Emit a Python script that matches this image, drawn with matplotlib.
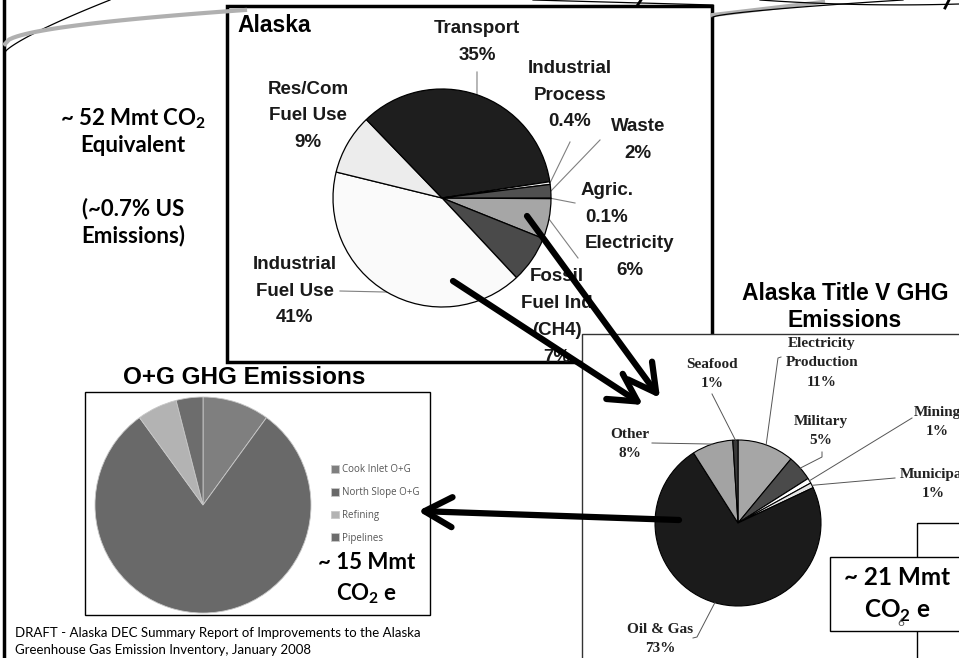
import numpy as np
import matplotlib
matplotlib.use('Agg')
import matplotlib.pyplot as plt
from matplotlib.patches import Rectangle

W, H = 959, 658

# statewide inventory, percent of total
ak_names = ['Agric.', 'Electricity', 'Fossil\nFuel Ind\n(CH4)', 'Industrial\nFuel Use',
            'Res/Com\nFuel Use', 'Transport', 'Industrial\nProcess', 'Waste']
ak_values = [0.1, 6, 7, 41, 9, 35, 0.4, 2]
ak_colors = ['#d9d9d9', '#a6a6a6', '#4a4a4a', '#fafafa', '#ececec', '#1e1e1e', '#f2f2f2', '#505050']

# oil and gas sector split
og_names = ['Cook Inlet O+G', 'North Slope O+G', 'Refining', 'Pipelines']
og_values = [10, 80, 6, 4]
og_colors = ['#7f7f7f', '#696969', '#b3b3b3', '#6d6d6d']

# Title V sources, percent
tv_names = ['Electricity\nProduction', 'Military', 'Mining', 'Municipal', 'Oil & Gas', 'Other', 'Seafood']
tv_values = [11, 5, 1, 1, 73, 8, 1]
tv_colors = ['#a6a6a6', '#4a4a4a', '#ffffff', '#e6e6e6', '#1b1b1b', '#a3a3a3', '#3a3a3a']

plt.rcParams['mathtext.fontset'] = 'custom'
plt.rcParams['mathtext.rm'] = 'Lato'
plt.rcParams['mathtext.bf'] = 'Lato:bold'

fig = plt.figure(figsize=(W / 100, H / 100), dpi=100)


def overlay(z):
    ax = fig.add_axes([0, 0, 1, 1], zorder=z)
    ax.set_xlim(0, W)
    ax.set_ylim(H, 0)
    ax.axis('off')
    return ax


def pie_axes(cx, cy, r, z):
    pad = 1.05
    ax = fig.add_axes([(cx - r * pad) / W, 1 - (cy + r * pad) / H, 2 * r * pad / W, 2 * r * pad / H], zorder=z)
    return ax


def finish_pie(ax):
    ax.set_xlim(-1.05, 1.05)
    ax.set_ylim(-1.05, 1.05)
    ax.axis('off')


def rim(cx, cy, r, ang):
    a = np.deg2rad(ang)
    return cx + r * np.cos(a), cy - r * np.sin(a)


def pct(v):
    return f'{v:g}%'


base = overlay(0)

# slide edge and leftover title swooshes
base.plot([4, 4], [0, H], color='black', lw=2.5)
t = np.linspace(0, 1, 60)
base.plot(5 + 105 * t, 52 - 52 * t ** 0.8, color='black', lw=0.9)
base.plot(5 + 240 * t, 44 - 34 * np.sqrt(t), color='#b0b0b0', lw=3)
base.plot(713 + 110 * t, 15 - 13 * t, color='#b0b0b0', lw=3)
base.plot(713 + 190 * t, 17 - 17 * t ** 0.7, color='black', lw=0.9)
base.plot(533 + 180 * t, 0 + 5 * t, color='black', lw=0.9)
base.plot(760 + 199 * t, 0 + 14 * t - 10 * t ** 2, color='black', lw=0.9)
base.plot([637, 641], [6, 0], color='black', lw=2)
base.plot([945, 949], [8, 0], color='black', lw=2)

# Alaska panel
base.add_patch(Rectangle((227, 6), 485, 356, facecolor='white', edgecolor='black', lw=2.5))
base.text(237, 25, 'Alaska', fontsize=16.5, fontweight='bold', family='Liberation Sans',
          va='center', ha='left')

base.text(133, 131, '~ 52 Mmt CO$_\\mathbf{2}$\nEquivalent', fontsize=16, fontweight='bold',
          family='Lato', ha='center', va='center', linespacing=1.25)
base.text(133, 222, '(~0.7% US\nEmissions)', fontsize=16, fontweight='bold',
          family='Lato', ha='center', va='center', linespacing=1.35)

base.text(15, 633, 'DRAFT - Alaska DEC Summary Report of Improvements to the Alaska',
          fontsize=9.5, family='Lato', va='center')
base.text(15, 650, 'Greenhouse Gas Emission Inventory, January 2008',
          fontsize=9.5, family='Lato', va='center')

ak_cx, ak_cy, ak_r = 442, 198, 109
ak_ax = pie_axes(ak_cx, ak_cy, ak_r, 1)
ak_wedges, _ = ak_ax.pie(ak_values, colors=ak_colors, startangle=0, counterclock=False,
                         wedgeprops=dict(edgecolor='black', linewidth=0.9))
finish_pie(ak_ax)

ak_text_pos = {
    'Agric.': (607, 204), 'Electricity': (630, 257), 'Fossil\nFuel Ind\n(CH4)': (557, 317),
    'Industrial\nFuel Use': (295, 291), 'Res/Com\nFuel Use': (308, 116), 'Transport': (477, 42),
    'Industrial\nProcess': (570, 95), 'Waste': (638, 140),
}
ak_leader = {
    'Transport': (477, 72), 'Industrial\nProcess': (570, 142), 'Waste': (600, 140),
    'Agric.': (575, 203), 'Electricity': (578, 258), 'Industrial\nFuel Use': (340, 291),
}
for w, name, val in zip(ak_wedges, ak_names, ak_values):
    x, y = ak_text_pos[name]
    base.text(x, y, f'{name}\n{pct(val)}', fontsize=13.5, fontweight='bold', family='Liberation Sans',
              color='#1a1a1a', ha='center', va='center', linespacing=1.75)
    if name in ak_leader:
        px, py = rim(ak_cx, ak_cy, ak_r, (w.theta1 + w.theta2) / 2)
        sx, sy = ak_leader[name]
        base.plot([sx, px], [sy, py], color='#808080', lw=0.8)

# O+G panel and Title V panel
mid = overlay(2)
mid.add_patch(Rectangle((85, 392), 345, 223, facecolor='white', edgecolor='black', lw=1))
mid.text(244, 378, 'O+G GHG Emissions', fontsize=17.5, fontweight='bold', family='Liberation Sans',
         ha='center', va='center')
mid.add_patch(Rectangle((582, 334), 390, 340, facecolor='white', edgecolor='#333333', lw=1))
mid.text(845, 307, 'Alaska Title V GHG\nEmissions', fontsize=16.5, fontweight='bold',
         family='Liberation Sans', ha='center', va='center', linespacing=1.25)
mid.add_patch(Rectangle((917, 523), 60, 150, facecolor='none', edgecolor='black', lw=1))
mid.add_patch(Rectangle((830, 557), 140, 74, facecolor='white', edgecolor='black', lw=1))
mid.text(897, 595, '~ 21 Mmt\nCO$_\\mathbf{2}$ e', fontsize=17.5, fontweight='bold', family='Lato',
         ha='center', va='center', linespacing=1.4)
mid.text(901, 622, '6', fontsize=8.5, family='Lato', color='#555555', ha='center', va='center')
mid.text(367, 579, '~ 15 Mmt\nCO$_\\mathbf{2}$ e', fontsize=16, fontweight='bold', family='Lato',
         ha='center', va='center', linespacing=1.45)

og_ax = pie_axes(203, 505, 108, 3)
og_wedges, _ = og_ax.pie(og_values, colors=og_colors, startangle=90, counterclock=False,
                         wedgeprops=dict(edgecolor='#c8c8c8', linewidth=0.6))
finish_pie(og_ax)
fig.legend(og_wedges, og_names, loc='center left', bbox_to_anchor=(322 / W, 1 - 504 / H),
           frameon=False, prop=dict(family='Open Sans', size=7), handlelength=0.8,
           handleheight=0.8, handletextpad=0.35, labelspacing=1.2, labelcolor='#555555')

tv_cx, tv_cy, tv_r = 738, 523, 83
tv_ax = pie_axes(tv_cx, tv_cy, tv_r, 3)
tv_wedges, _ = tv_ax.pie(tv_values, colors=tv_colors, startangle=90, counterclock=False,
                         wedgeprops=dict(edgecolor='black', linewidth=0.8))
finish_pie(tv_ax)

top = overlay(4)
tv_text_pos = {
    'Electricity\nProduction': (822, 363), 'Military': (821, 431), 'Mining': (937, 422),
    'Municipal': (933, 484), 'Oil & Gas': (660, 639), 'Other': (630, 444), 'Seafood': (712, 374),
}
tv_leader = {
    'Electricity\nProduction': [(781, 357), (778, 358)], 'Military': [(822, 452), (822, 457)],
    'Mining': [(912, 418)], 'Municipal': [(895, 478)], 'Oil & Gas': [(693, 638), (697, 637)],
    'Other': [(652, 443)], 'Seafood': [(712, 394)],
}
for w, name, val in zip(tv_wedges, tv_names, tv_values):
    x, y = tv_text_pos[name]
    top.text(x, y, f'{name}\n{pct(val)}', fontsize=11, fontweight='bold', family='Liberation Serif',
             color='#222222', ha='center', va='center', linespacing=1.6)
    px, py = rim(tv_cx, tv_cy, tv_r, (w.theta1 + w.theta2) / 2)
    pts = tv_leader[name] + [(px, py)]
    top.plot([p[0] for p in pts], [p[1] for p in pts], color='#555555', lw=0.7)

# arrows tying the panels together
arrow = dict(arrowstyle='->,head_length=1.1,head_width=0.6', color='black', lw=4.5,
             mutation_scale=18, shrinkA=0, shrinkB=0)
top.annotate('', xy=(643, 405), xytext=(453, 281), arrowprops=arrow)
top.annotate('', xy=(660, 398), xytext=(527, 216), arrowprops=arrow)
top.annotate('', xy=(418, 511), xytext=(679, 520), arrowprops=arrow)

plt.savefig('out.png', dpi=100)
